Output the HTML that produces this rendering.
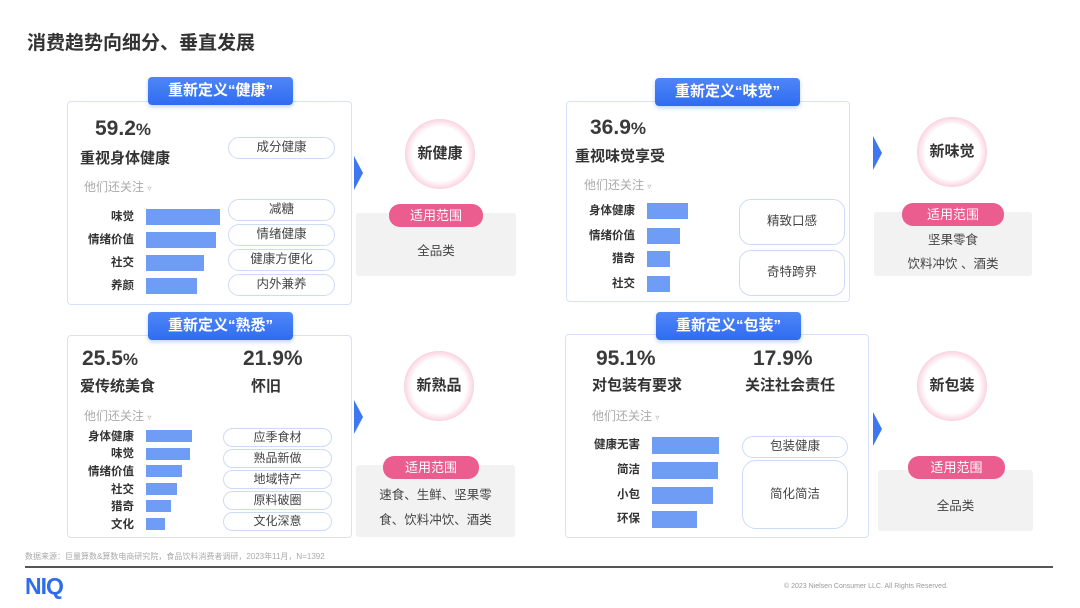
<!DOCTYPE html>
<html><head><meta charset="utf-8"><style>
*{margin:0;padding:0;box-sizing:border-box}
body{width:1080px;height:608px;background:#fff;position:relative;overflow:hidden;font-family:"Liberation Sans","Noto Sans CJK SC",sans-serif;color:#333}
.a{position:absolute;white-space:nowrap}
.panel{position:absolute;border:1.5px solid #d6e2fb;border-radius:4px;background:#fff}
.hd{position:absolute;height:28px;background:linear-gradient(#4f86f7,#2f6cf0);border-radius:4px;color:#fff;font-weight:bold;font-size:15px;text-align:center;line-height:28px;box-shadow:0 2px 4px rgba(47,108,240,.3)}
.pct{position:absolute;font-size:21px;font-weight:bold;color:#3a3a3a;line-height:24px}
.pct small{font-size:17px}
.lab{position:absolute;font-size:15px;font-weight:bold;color:#333;line-height:18px}
.also{position:absolute;font-size:12px;color:#aaa;line-height:14px}
.bl{position:absolute;font-size:11.5px;font-weight:bold;color:#333;text-align:right;line-height:14px}
.bar{position:absolute;background:#6f9cf4}
.pill{position:absolute;border:1.5px solid #cddbf8;border-radius:12px;background:#fff;font-size:12.5px;color:#444;text-align:center}
.arr{position:absolute;width:0;height:0;border-top:17px solid transparent;border-bottom:17px solid transparent;border-left:9px solid #3d78f2}
.circ{position:absolute;width:70px;height:70px;border-radius:50%;background:radial-gradient(circle,#fff 55%,#fbdbe6 68%,#f4a3bf 82%,#ee89ad 90%,#f9d3e0 100%);font-size:15px;font-weight:bold;color:#333;text-align:center;line-height:70px}
.gbox{position:absolute;background:#f2f2f2;border-radius:3px;font-size:12.5px;color:#444;text-align:center}
.tag{position:absolute;background:#ea5d8e;border-radius:11px;color:#fff;font-size:13px;text-align:center;line-height:23px;height:23px}
</style></head><body>
<div class="a" style="left:27px;top:28px;font-size:19px;font-weight:bold;color:#333">消费趋势向细分、垂直发展</div>

<!-- Q1 -->
<div class="panel" style="left:67px;top:101px;width:285px;height:204px"></div>
<div class="hd" style="left:148px;top:77px;width:145px">重新定义“健康”</div>
<div class="pct" style="left:95px;top:117px">59.2<small>%</small></div>
<div class="lab" style="left:80px;top:150px">重视身体健康</div>
<div class="also" style="left:84px;top:180px">他们还关注 <span style="font-size:8px">▿</span></div>
<div class="bl" style="left:70px;width:64px;top:210px">味觉</div><div class="bar" style="left:146px;top:209px;width:74px;height:16px"></div>
<div class="bl" style="left:70px;width:64px;top:233px">情绪价值</div><div class="bar" style="left:146px;top:232px;width:70px;height:16px"></div>
<div class="bl" style="left:70px;width:64px;top:256px">社交</div><div class="bar" style="left:146px;top:255px;width:58px;height:16px"></div>
<div class="bl" style="left:70px;width:64px;top:279px">养颜</div><div class="bar" style="left:146px;top:278px;width:51px;height:16px"></div>
<div class="pill" style="left:228px;top:137px;width:107px;height:22px;line-height:19px">成分健康</div>
<div class="pill" style="left:228px;top:199px;width:107px;height:22px;line-height:19px">减糖</div>
<div class="pill" style="left:228px;top:224px;width:107px;height:22px;line-height:19px">情绪健康</div>
<div class="pill" style="left:228px;top:249px;width:107px;height:22px;line-height:19px">健康方便化</div>
<div class="pill" style="left:228px;top:274px;width:107px;height:22px;line-height:19px">内外兼养</div>
<div class="arr" style="left:354px;top:156px"></div>
<div class="circ" style="left:405px;top:119px">新健康</div>
<div class="gbox" style="left:356px;top:213px;width:160px;height:63px;line-height:76px">全品类</div>
<div class="tag" style="left:389px;top:204px;width:94px">适用范围</div>

<!-- Q2 -->
<div class="panel" style="left:566px;top:101px;width:284px;height:201px"></div>
<div class="hd" style="left:655px;top:78px;width:145px">重新定义“味觉”</div>
<div class="pct" style="left:590px;top:116px">36.9<small>%</small></div>
<div class="lab" style="left:575px;top:148px">重视味觉享受</div>
<div class="also" style="left:584px;top:178px">他们还关注 <span style="font-size:8px">▿</span></div>
<div class="bl" style="left:570px;width:65px;top:204px">身体健康</div><div class="bar" style="left:647px;top:203px;width:41px;height:16px"></div>
<div class="bl" style="left:570px;width:65px;top:229px">情绪价值</div><div class="bar" style="left:647px;top:228px;width:33px;height:16px"></div>
<div class="bl" style="left:570px;width:65px;top:252px">猎奇</div><div class="bar" style="left:647px;top:251px;width:23px;height:16px"></div>
<div class="bl" style="left:570px;width:65px;top:277px">社交</div><div class="bar" style="left:647px;top:276px;width:23px;height:16px"></div>
<div class="pill" style="left:739px;top:199px;width:106px;height:46px;line-height:43px">精致口感</div>
<div class="pill" style="left:739px;top:250px;width:106px;height:46px;line-height:43px">奇特跨界</div>
<div class="arr" style="left:873px;top:136px"></div>
<div class="circ" style="left:917px;top:117px">新味觉</div>
<div class="gbox" style="left:874px;top:212px;width:158px;height:64px"><div style="position:absolute;top:20px;width:100%;line-height:16px">坚果零食</div><div style="position:absolute;top:44px;width:100%;line-height:16px">饮料冲饮 、酒类</div></div>
<div class="tag" style="left:902px;top:203px;width:102px">适用范围</div>

<!-- Q3 -->
<div class="panel" style="left:67px;top:335px;width:285px;height:203px"></div>
<div class="hd" style="left:148px;top:312px;width:145px">重新定义“熟悉”</div>
<div class="pct" style="left:82px;top:347px">25.5<small>%</small></div>
<div class="pct" style="left:243px;top:347px">21.9%</div>
<div class="lab" style="left:80px;top:378px">爱传统美食</div>
<div class="lab" style="left:251px;top:378px">怀旧</div>
<div class="also" style="left:84px;top:409px">他们还关注 <span style="font-size:8px">▿</span></div>
<div class="bl" style="left:70px;width:64px;top:430px">身体健康</div><div class="bar" style="left:146px;top:430px;width:46px;height:12px"></div>
<div class="bl" style="left:70px;width:64px;top:447px">味觉</div><div class="bar" style="left:146px;top:448px;width:44px;height:12px"></div>
<div class="bl" style="left:70px;width:64px;top:465px">情绪价值</div><div class="bar" style="left:146px;top:465px;width:36px;height:12px"></div>
<div class="bl" style="left:70px;width:64px;top:483px">社交</div><div class="bar" style="left:146px;top:483px;width:31px;height:12px"></div>
<div class="bl" style="left:70px;width:64px;top:500px">猎奇</div><div class="bar" style="left:146px;top:500px;width:25px;height:12px"></div>
<div class="bl" style="left:70px;width:64px;top:518px">文化</div><div class="bar" style="left:146px;top:518px;width:19px;height:12px"></div>
<div class="pill" style="left:223px;top:428px;width:109px;height:19px;line-height:16px;font-size:12px">应季食材</div>
<div class="pill" style="left:223px;top:449px;width:109px;height:19px;line-height:16px;font-size:12px">熟品新做</div>
<div class="pill" style="left:223px;top:470px;width:109px;height:19px;line-height:16px;font-size:12px">地域特产</div>
<div class="pill" style="left:223px;top:491px;width:109px;height:19px;line-height:16px;font-size:12px">原料破圈</div>
<div class="pill" style="left:223px;top:512px;width:109px;height:19px;line-height:16px;font-size:12px">文化深意</div>
<div class="arr" style="left:354px;top:400px"></div>
<div class="circ" style="left:404px;top:351px">新熟品</div>
<div class="gbox" style="left:356px;top:465px;width:159px;height:72px"><div style="position:absolute;top:22px;width:100%;line-height:16px">速食、生鲜、坚果零</div><div style="position:absolute;top:47px;width:100%;line-height:16px">食、饮料冲饮、酒类</div></div>
<div class="tag" style="left:383px;top:456px;width:96px">适用范围</div>

<!-- Q4 -->
<div class="panel" style="left:565px;top:334px;width:304px;height:204px"></div>
<div class="hd" style="left:656px;top:312px;width:145px">重新定义“包装”</div>
<div class="pct" style="left:596px;top:347px">95.1%</div>
<div class="pct" style="left:753px;top:347px">17.9%</div>
<div class="lab" style="left:592px;top:377px">对包装有要求</div>
<div class="lab" style="left:745px;top:377px">关注社会责任</div>
<div class="also" style="left:592px;top:409px">他们还关注 <span style="font-size:8px">▿</span></div>
<div class="bl" style="left:570px;width:70px;top:438px">健康无害</div><div class="bar" style="left:652px;top:437px;width:67px;height:17px"></div>
<div class="bl" style="left:570px;width:70px;top:463px">简洁</div><div class="bar" style="left:652px;top:462px;width:66px;height:17px"></div>
<div class="bl" style="left:570px;width:70px;top:488px">小包</div><div class="bar" style="left:652px;top:487px;width:61px;height:17px"></div>
<div class="bl" style="left:570px;width:70px;top:512px">环保</div><div class="bar" style="left:652px;top:511px;width:45px;height:17px"></div>
<div class="pill" style="left:742px;top:436px;width:106px;height:22px;line-height:19px">包装健康</div>
<div class="pill" style="left:742px;top:460px;width:106px;height:69px;line-height:66px;border-radius:14px">简化简洁</div>
<div class="arr" style="left:873px;top:412px"></div>
<div class="circ" style="left:917px;top:351px">新包装</div>
<div class="gbox" style="left:878px;top:470px;width:155px;height:61px;line-height:72px">全品类</div>
<div class="tag" style="left:908px;top:456px;width:97px">适用范围</div>

<!-- footer -->
<div class="a" style="left:25px;top:551px;font-size:8px;color:#aaa">数据来源：巨量算数&amp;算数电商研究院，食品饮料消费者调研，2023年11月，N=1392</div>
<div class="a" style="left:25px;top:566px;width:1028px;height:2px;background:#555"></div>
<div class="a" style="left:25px;top:573px;font-size:23px;font-weight:bold;color:#2f6cf0;letter-spacing:-1px;line-height:26px">NIQ</div>
<div class="a" style="left:784px;top:583px;font-size:7px;color:#999">© 2023 Nielsen Consumer LLC. All Rights Reserved.</div>
</body></html>
